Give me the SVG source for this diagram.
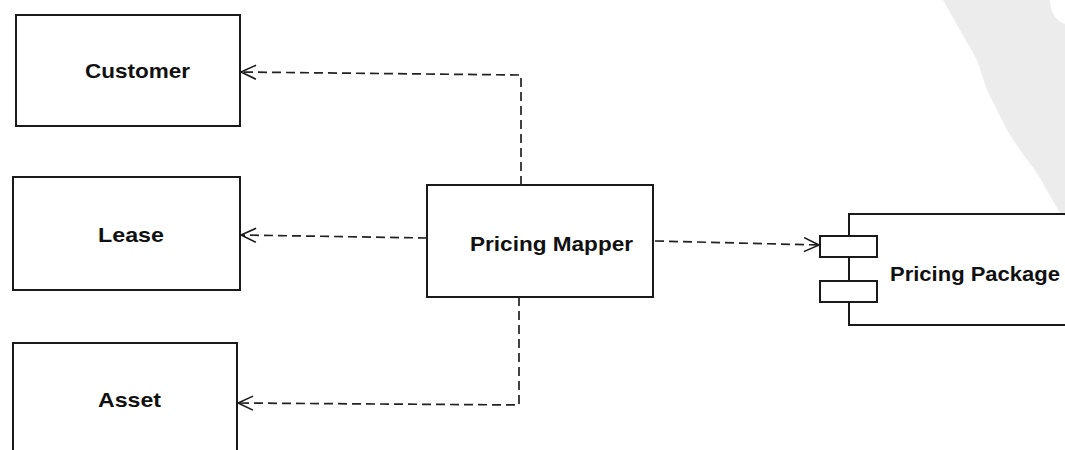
<svg xmlns="http://www.w3.org/2000/svg" width="1065" height="450" viewBox="0 0 1065 450">
<defs>
<marker id="open" markerWidth="18" markerHeight="16" refX="16" refY="8" orient="auto" markerUnits="userSpaceOnUse">
<path d="M1,1 L16,8 L1,15" fill="none" stroke="#1a1a1a" stroke-width="1.6"/>
</marker>
</defs>
<style>
.box{fill:#fff;stroke:#1a1a1a;stroke-width:2}
.lbl{font-family:"Liberation Sans",Arial,sans-serif;font-weight:bold;font-size:21px;fill:#111}
.dep{fill:none;stroke:#222;stroke-width:1.7;stroke-dasharray:9,5}
</style>
<rect width="1065" height="450" fill="#fff"/>
<path d="M943,0 L977,60 L987,90 L1007,130 L1020,150 L1037,173 L1060,213 L1065,216 L1065,0 Z" fill="#ececec"/>
<path d="M1050,0 Q1050,18 1065,24 L1065,0 Z" fill="#fff"/>
<g id="customer">
<rect class="box" x="16" y="15" width="224" height="111"/>
<text class="lbl" x="85" y="78" textLength="105" lengthAdjust="spacingAndGlyphs">Customer</text>
</g>
<g id="lease">
<rect class="box" x="13" y="177" width="227" height="113"/>
<text class="lbl" x="98" y="242" textLength="66" lengthAdjust="spacingAndGlyphs">Lease</text>
</g>
<g id="asset">
<rect class="box" x="13" y="343" width="224" height="120"/>
<text class="lbl" x="98" y="407" textLength="63" lengthAdjust="spacingAndGlyphs">Asset</text>
</g>
<g id="pricing-mapper">
<rect class="box" x="427" y="185" width="226" height="112"/>
<text class="lbl" x="470" y="251" textLength="163" lengthAdjust="spacingAndGlyphs">Pricing Mapper</text>
</g>
<g id="pricing-package">
<path d="M1070,214 L849,214 L849,236 M849,257 L849,281 M849,302 L849,325 L1070,325" fill="none" stroke="#1a1a1a" stroke-width="2"/>
<rect class="box" x="820" y="236" width="57" height="21"/>
<rect class="box" x="820" y="281" width="57" height="21"/>
<text class="lbl" x="890" y="281" textLength="170" lengthAdjust="spacingAndGlyphs">Pricing Package</text>
</g>
<g id="connectors">
<path class="dep" d="M521,185 L521,75 L241,72" marker-end="url(#open)"/>
<path class="dep" d="M427,238 L241,235" marker-end="url(#open)"/>
<path class="dep" d="M519,297 L519,405 L238,403" marker-end="url(#open)"/>
<path class="dep" d="M655,241 L819,245" marker-end="url(#open)"/>
</g>
</svg>
